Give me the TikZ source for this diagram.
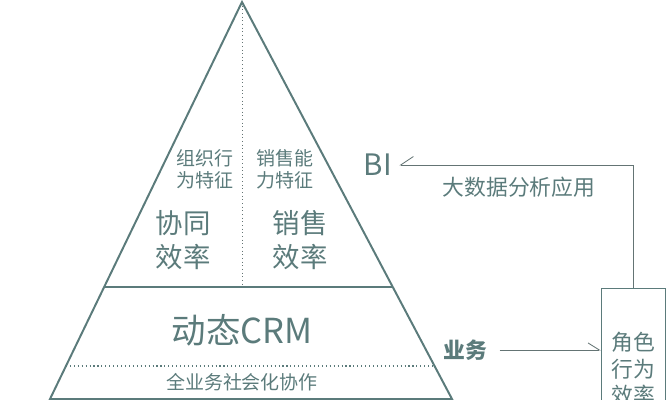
\documentclass[tikz,border=0pt]{standalone}
\usepackage{fontspec}
\setmainfont{Noto Sans CJK SC}
\usetikzlibrary{arrows.meta,calc}

\begin{document}
\begin{tikzpicture}[x=0.025cm,y=-0.025cm]
  \definecolor{tl}{HTML}{5B7B7B}
  \definecolor{ln}{HTML}{647474}
  \newcommand{\fs}[2]{\fontsize{#1}{#2}\selectfont}
  \tikzset{
    lbl/.style={text=tl,inner sep=1pt},
    harp/.style={ln,line width=0.6pt,-{Straight Barb[harpoon,swap,length=9pt,width=12pt]}},
    harq/.style={ln,line width=0.6pt,-{Straight Barb[harpoon,length=8pt,width=10pt]}}}
  \clip (0,0) rectangle (667,400);

  % the pyramid
  \coordinate (apex) at (242,2);
  \coordinate (bl) at (50,399);
  \coordinate (br) at (452,399);
  \draw[tl,line width=1.4pt] (bl) -- (apex) -- (br) -- cycle;
  \draw[tl,line width=1.3pt] ($(apex)!0.718!(bl)$) -- ($(apex)!0.718!(br)$);
  \draw[tl,dotted,line width=0.8pt] ($(apex)!0.917!(bl)$) -- ($(apex)!0.917!(br)$);
  \draw[ln,dotted,line width=0.6pt] (apex) -- (242,287);

  % texts of the pyramid
  \node[lbl,align=right,anchor=east,font=\fs{13.5}{15.8}] (zz) at (235,169) {组织行\\为特征};
  \node[lbl,align=left,anchor=west,font=\fs{13.5}{15.8}] (xs) at (255,169) {销售能\\力特征};
  \node[lbl,align=center,font=\fs{19.5}{24}] (xt) at (183,240) {协同\\效率};
  \node[lbl,align=center,font=\fs{19.5}{24}] (xl) at (300,240) {销售\\效率};
  \node[lbl,font=\fs{24.5}{28}] (crm) at (242,330) {动态CRM};
  \node[lbl,font=\fs{13.5}{16}] (shh) at (242,382) {全业务社会化协作};

  % right side
  \node[lbl,inner sep=5pt,font=\fs{21}{24}] (bi) at (378,165) {BI};
  \node[lbl,font=\fs{15.5}{18}] (dsj) at (519,187) {大数据分析应用};
  \node[lbl,font=\fs{15.5}{18}\bfseries] (yw) at (465,350) {业务};
  \node[draw=tl,line width=1pt,text=tl,anchor=north,minimum width=1.6cm,
        minimum height=4cm,align=center,font=\fs{15.5}{18.5}] (box) at (633.5,288)
        {角色\\行为\\效率};
  \draw[harp] (box.north) |- (bi.east);
  \draw[harq] ([xshift=8pt]yw.east) -- (yw.east -| box.west);
\end{tikzpicture}
\end{document}
